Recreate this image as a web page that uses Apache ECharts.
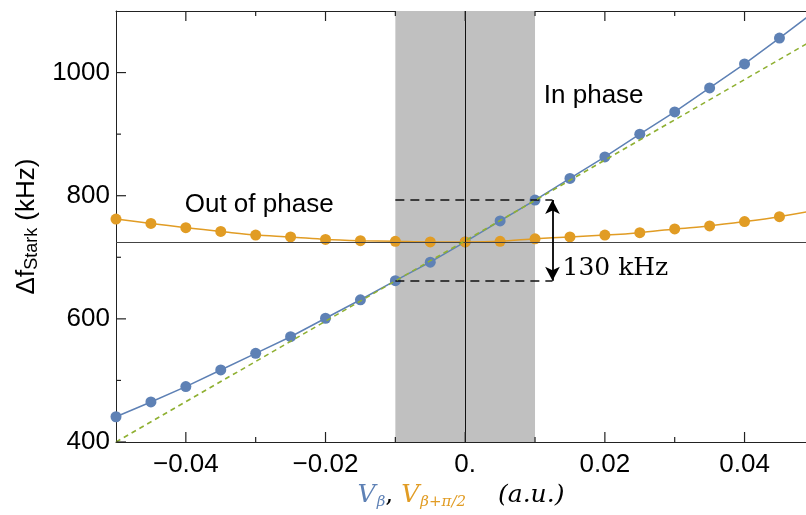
<!DOCTYPE html>
<html lang="en">
<head>
<meta charset="UTF-8">
<title>Stark shift vs drive</title>
<script src="https://cdn.jsdelivr.net/npm/echarts@6/dist/echarts.min.js"></script>
<style>
  html, body { margin: 0; padding: 0; background: #fff; }
  #main { width: 806px; height: 515px; }
</style>
</head>
<body>
<div id="main"></div>
<script>
// drive amplitude (a.u.)
var xs = [-0.05, -0.045, -0.04, -0.035, -0.03, -0.025, -0.02, -0.015, -0.01, -0.005, 0,
          0.005, 0.01, 0.015, 0.02, 0.025, 0.03, 0.035, 0.04, 0.045, 0.05];
// Stark shift (kHz)
var inPhase  = [441, 465, 490, 517, 544, 571, 601, 631, 662, 692, 725,
                759, 793, 828, 863, 900, 936, 975, 1014, 1056, 1099];
var outPhase = [762, 755, 748, 742, 736, 733, 729, 727, 726, 725, 725,
                726, 730, 733, 736, 740, 746, 751, 758, 766, 776];
var linearX = [-0.05, 0.05];
var linearY = [400, 1054];

var majorX = [-0.04, -0.02, 0, 0.02, 0.04];
var minorX = [-0.03, -0.01, 0.01, 0.03];
var majorY = [400, 600, 800, 1000];
var minorY = [500, 700, 900];

var band = [-0.01, 0.01];
var refLevel = 725;
var spanLevels = [793, 662];
var spanX = [-0.01, 0.0125];
var spanText = '130 kHz';

var noteText = ['In phase', 'Out of phase'];
var noteX = [0.0184, -0.0295];
var noteY = [963, 785];

var BLUE = '#5E81B5', ORANGE = '#E19C24', GREEN = '#8FB032';
var SANS = '"Liberation Sans", Arial, sans-serif';
var SERIF = '"DejaVu Serif", serif';

function pairs(a, b) {
    return a.map(function (v, i) { return [v, b[i]]; });
}

var xMin = -0.05, xMax = 0.0488, yMin = 400, yMax = 1100;
var frame = { show: true, onZero: false, lineStyle: { color: '#222', width: 1 } };

// frame ticks pointing into the plot: [x, y, side, length px]
// side 0 = bottom, 1 = top, 2 = left
var ticks = [];
majorX.forEach(function (v) { ticks.push([v, yMin, 0, 10], [v, yMax, 1, 10]); });
minorX.forEach(function (v) { ticks.push([v, yMin, 0, 5], [v, yMax, 1, 5]); });
majorY.forEach(function (v) { ticks.push([xMin, v, 2, 10]); });
minorY.forEach(function (v) { ticks.push([xMin, v, 2, 5]); });

function renderTick(params, api) {
    var p = api.coord([api.value(0), api.value(1)]);
    var side = api.value(2), len = api.value(3);
    var x2 = p[0], y2 = p[1];
    if (side === 0) y2 -= len;
    else if (side === 1) y2 += len;
    else x2 += len;
    return {
        type: 'line',
        shape: { x1: p[0], y1: p[1], x2: x2, y2: y2 },
        style: { stroke: '#222', lineWidth: 1.2 }
    };
}

var myChart = echarts.init(document.getElementById('main'));

myChart.setOption({
    animation: false,
    grid: { left: 116, right: 0, top: 11, bottom: 73 },
    xAxis: [
        {
            type: 'value', position: 'bottom', min: xMin, max: xMax,
            axisLine: frame,
            axisTick: { show: false },
            axisLabel: {
                customValues: majorX, margin: 10, color: '#000', fontSize: 26, fontFamily: SANS,
                formatter: function (v) {
                    if (v === 0) return '0.';
                    return (v < 0 ? '\u2212' : '') + Math.abs(v).toFixed(2);
                }
            },
            splitLine: { show: false },
            name: '{vb|V}{sb|β}{c|, }{vo|V}{so|β+π/2}{g|}{au|(a.u.)}',
            nameLocation: 'middle', nameGap: 34,
            nameTextStyle: {
                rich: {
                    vb: { color: BLUE, fontFamily: SERIF, fontStyle: 'italic', fontSize: 25 },
                    sb: { color: BLUE, fontFamily: SERIF, fontStyle: 'italic', fontSize: 15, padding: [13, 0, 0, 1] },
                    c: { color: '#000', fontFamily: SERIF, fontSize: 25 },
                    vo: { color: ORANGE, fontFamily: SERIF, fontStyle: 'italic', fontSize: 25 },
                    so: { color: ORANGE, fontFamily: SERIF, fontStyle: 'italic', fontSize: 15, padding: [13, 0, 0, 1] },
                    g: { width: 32 },
                    au: { color: '#000', fontFamily: SERIF, fontStyle: 'italic', fontSize: 25 }
                }
            }
        },
        {
            type: 'value', position: 'top', min: xMin, max: xMax,
            axisLine: frame, axisTick: { show: false }, axisLabel: { show: false },
            splitLine: { show: false }
        }
    ],
    yAxis: [
        {
            type: 'value', position: 'left', min: yMin, max: yMax,
            axisLine: frame,
            axisTick: { show: false },
            axisLabel: {
                customValues: majorY, margin: 6, color: '#000', fontSize: 26, fontFamily: SANS,
                formatter: function (v) { return String(v); }
            },
            splitLine: { show: false },
            name: '{d|Δf}{s|Stark}{n| (kHz)}',
            nameLocation: 'middle', nameRotate: 90, nameGap: 74,
            nameTextStyle: {
                rich: {
                    d: { color: '#000', fontFamily: SANS, fontSize: 26 },
                    s: { color: '#000', fontFamily: SANS, fontSize: 18, padding: [11, 0, 0, 0] },
                    n: { color: '#000', fontFamily: SANS, fontSize: 26 }
                }
            }
        }
    ],
    series: [
        {
            name: 'guides', type: 'line', data: [], z: 1,
            markArea: {
                silent: true,
                itemStyle: { color: '#C0C0C0', opacity: 1 },
                data: [[{ xAxis: band[0] }, { xAxis: band[1] }]]
            },
            markLine: {
                silent: true, symbol: 'none', label: { show: false },
                data: [
                    { xAxis: 0, lineStyle: { color: '#111', width: 1, type: 'solid' } },
                    { yAxis: refLevel, lineStyle: { color: '#444', width: 1.2, type: 'solid' } }
                ]
            }
        },
        {
            name: 'ticks', type: 'custom', z: 8, silent: true, clip: false,
            renderItem: renderTick, data: ticks
        },
        {
            name: 'span', type: 'line', data: [], z: 2,
            markLine: {
                silent: true, symbol: 'none', label: { show: false },
                lineStyle: { color: '#111', width: 1.6, type: [9, 6] },
                data: [
                    [{ coord: [spanX[0], spanLevels[0]] }, { coord: [spanX[1], spanLevels[0]] }],
                    [{ coord: [spanX[0], spanLevels[1]] }, { coord: [spanX[1], spanLevels[1]] }]
                ]
            }
        },
        {
            name: 'arrow', type: 'line', data: [], z: 6,
            markLine: {
                silent: true, symbol: ['arrow', 'arrow'], symbolSize: [11, 14],
                lineStyle: { color: '#000', width: 1.8, type: 'solid' },
                label: { show: false },
                data: [[{ coord: [spanX[1], spanLevels[0]] }, { coord: [spanX[1], spanLevels[1]] }]]
            }
        },
        {
            name: 'In phase', type: 'line', z: 3,
            data: pairs(xs, inPhase),
            symbol: 'circle', symbolSize: 11, showAllSymbol: true,
            lineStyle: { color: BLUE, width: 1.5 }, itemStyle: { color: BLUE }
        },
        {
            name: 'Out of phase', type: 'line', z: 4,
            data: pairs(xs, outPhase), smooth: 0.3,
            symbol: 'circle', symbolSize: 11, showAllSymbol: true,
            lineStyle: { color: ORANGE, width: 1.5 }, itemStyle: { color: ORANGE }
        },
        {
            name: 'linear', type: 'line', z: 5,
            data: pairs(linearX, linearY), symbol: 'none',
            lineStyle: { color: GREEN, width: 1.6, type: [5, 4] }
        },
        {
            name: 'notes', type: 'scatter', z: 7, symbolSize: 0, silent: true,
            itemStyle: { opacity: 1 },
            data: noteText.map(function (t, i) { return [noteX[i], noteY[i], t]; }),
            label: {
                show: true, position: 'inside', color: '#000', opacity: 1, fontSize: 26, fontFamily: SANS,
                textBorderWidth: 0,
                formatter: function (p) { return p.value[2]; }
            }
        },
        {
            name: 'spanLabel', type: 'scatter', z: 7, symbolSize: 0, silent: true,
            itemStyle: { opacity: 1 },
            data: [[spanX[1], (spanLevels[0] + spanLevels[1]) / 2 - 45]],
            label: {
                show: true, position: 'right', distance: 10, color: '#000', opacity: 1,
                fontSize: 25, fontFamily: SERIF, textBorderWidth: 0,
                formatter: spanText
            }
        }
    ]
});
</script>
</body>
</html>
